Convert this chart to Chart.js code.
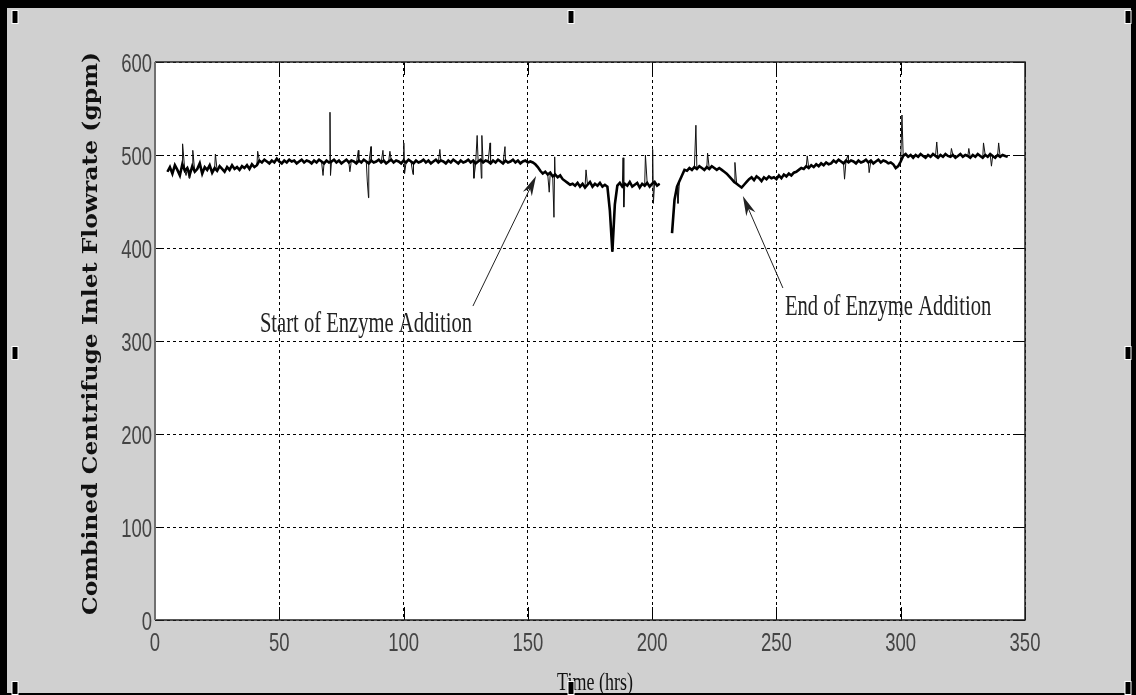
<!DOCTYPE html>
<html>
<head>
<meta charset="utf-8">
<title>Combined Centrifuge Inlet Flowrate</title>
<script src="https://cdn.jsdelivr.net/npm/chart.js@4.4.1/dist/chart.umd.min.js"></script>
<style>
  html, body { margin: 0; padding: 0; background: #d0d0d0; }
  canvas { display: block; }
</style>
</head>
<body>
<canvas id="flowChart" width="1136" height="695"></canvas>
<script>
// hourly readings (gpm), first one at hour 5; null = nothing logged
const startHour = 5;
const flow = [
  482, 487, 480, 489, 484, 478, 490, 483, 486, 479,
  488, 482, 485, 491, 480, 487, 484, 489, 481, 486,
  483, 488, 485, 482, 487, 484, 489, 485, 487, 484,
  488, 486, 489, 485, 490, 487, 489,
  494, 492, 495, 493, 491, 494, 492, 496, 493, 491,
  494, 492, 495, 493, 494, 491, 493, 495, 492, 494,
  493, 491, 494, 492, 495, 493, 491, 494, 492, 493,
  495, 492, 494, 491, 493, 495, 492, 494, 493, 491,
  494, 492, 495, 493, 491, 494, 492, 493, 495, 492,
  494, 491, 493, 495, 492, 494, 493, 491, 494, 492,
  495, 493, 491, 494, 492, 493, 495, 492, 494, 491,
  493, 495, 492, 494, 493, 491, 494, 492, 495, 493,
  491, 494, 492, 493, 495, 492, 494, 491, 493, 495,
  492, 494, 493, 491, 494, 492, 495, 493, 491, 494,
  492, 493, 495, 492, 494, 491, 493, 494, 492, 493,
  492,
  490, 487, 483, 480, 482, 479, 481, 477, 479, 476, 478, 474, 472, 470, 468, 469,
  467, 470, 466, 469, 465, 468, 471, 466, 469, 467,
  470, 466, 468, 466, 440, 396, 447, 467, 470, 466,
  469, 467, 471, 466, 468, 470, 465, 469, 467, 470,
  466, 469, 471, 467, 469,
  null, null, null, null,
  416, 452, 466, 472, 478, 484, 483, 486, 484, 487,
  485, 488, 486, 484, 487, 485, 488, 486, 484, 486,
  484, 482, 480, 477, 474, 471, 469, 467, 465, 468,
  471, 474, 476, 473, 477, 475, 472, 476, 474, 477,
  475, 476, 474, 478, 475, 479, 477, 480, 478, 481,
  482, 484, 486, 485, 488, 486, 489, 487, 490, 488,
  491, 489, 492, 490, 491, 494, 492, 495, 493, 491,
  494, 492, 494, 493, 491, 494, 492, 493, 495, 492,
  494, 491, 493, 495, 492, 494, 493, 491, 492, 490,
  486, 488, 493,
  499, 501, 498, 500, 497, 500, 498, 501, 499, 497,
  500, 498, 501, 499, 497, 500, 498, 501, 499, 498,
  500, 497, 499, 501, 498, 500, 499, 497, 500, 498,
  501, 499, 497, 500, 498, 501, 499, 497, 500, 498,
  500, 499, 498
];

// short spikes logged between the hourly readings: [hour, gpm]
const spikes = [
  [11.1, 512], [12.5, 478], [13.7, 475], [15.2, 505], [24.3, 501], [41.3, 504],
  [67.6, 478], [70.4, 546], [70.6, 478], [78.4, 482], [81.8, 505], [85.4, 472],
  [85.9, 454], [86.9, 509], [91.7, 505], [94.5, 504], [100.1, 513], [100.4, 480],
  [103.8, 479], [114.6, 506], [128.3, 475], [129.6, 521], [131.3, 475], [131.5, 521],
  [134.8, 513], [140.8, 509], [158.6, 460], [160.5, 433], [160.8, 498], [173.4, 484],
  [188.3, 497], [188.6, 444], [197.3, 500], [200.2, 506], [200.5, 448],
  [210.4, 448], [217.6, 532], [222.3, 502], [233.3, 492], [262.4, 499], [277.4, 474],
  [278.8, 500], [287.3, 481], [300.5, 543], [314.5, 514], [320.4, 507], [327.4, 507],
  [333.3, 513], [336.5, 488], [339.4, 513]
];

const xTicks = [0, 50, 100, 150, 200, 250, 300, 350];
const yTicks = [0, 100, 200, 300, 400, 500, 600];

// callouts, in axis units: text anchor (left, baseline), arrow tail and tip
const notes = [
  { text: 'Start of Enzyme Addition', at: [42.2, 309.7], tail: [127.9, 337.6], tip: [153.3, 477.4] },
  { text: 'End of Enzyme Addition', at: [253.4, 328], tail: [252.6, 357], tip: [236.5, 455.9] }
];

const hourly = flow.map((v, i) => ({ x: startHour + i, y: v }));
const allPoints = hourly
  .concat(spikes.map(s => ({ x: s[0], y: s[1] })))
  .sort((a, b) => a.x - b.x);

// text in this figure is drawn tall and narrow
function tallText(ctx, text, x, y, font, sy, align) {
  ctx.save();
  ctx.font = font;
  ctx.textAlign = align || 'left';
  ctx.textBaseline = 'alphabetic';
  ctx.translate(x, y);
  ctx.scale(1, sy);
  ctx.fillText(text, 0, 0);
  ctx.restore();
}

function arrow(ctx, x1, y1, x2, y2) {
  const ang = Math.atan2(y2 - y1, x2 - x1);
  const c = Math.cos(ang), s = Math.sin(ang);
  const len = 20, half = 5;
  ctx.beginPath();
  ctx.moveTo(x1, y1);
  ctx.lineTo(x2 - c * len * 0.6, y2 - s * len * 0.6);
  ctx.stroke();
  ctx.beginPath();
  ctx.moveTo(x2, y2);
  ctx.lineTo(x2 - c * len - s * half, y2 - s * len + c * half);
  ctx.lineTo(x2 - c * len * 0.7, y2 - s * len * 0.7);
  ctx.lineTo(x2 - c * len + s * half, y2 - s * len - c * half);
  ctx.closePath();
  ctx.fill();
}

const figure = {
  id: 'figure',
  beforeDraw(chart) {
    const { ctx, chartArea: a } = chart;
    ctx.save();
    ctx.fillStyle = '#d0d0d0';
    ctx.fillRect(0, 0, chart.width, chart.height);
    ctx.fillStyle = '#ffffff';
    ctx.fillRect(a.left, a.top, a.right - a.left, a.bottom - a.top);
    ctx.restore();
  },
  afterDraw(chart) {
    const { ctx, chartArea: a, scales: { x, y } } = chart;
    const W = chart.width, H = chart.height;
    ctx.save();

    // tick marks on the inside of the box
    ctx.strokeStyle = '#000';
    ctx.lineWidth = 1;
    ctx.beginPath();
    xTicks.forEach(v => {
      const px = Math.round(x.getPixelForValue(v)) + 0.5;
      ctx.moveTo(px, a.bottom); ctx.lineTo(px, a.bottom - 13);
      ctx.moveTo(px, a.top); ctx.lineTo(px, a.top + 13);
    });
    yTicks.forEach(v => {
      const py = Math.round(y.getPixelForValue(v)) + 0.5;
      ctx.moveTo(a.left, py); ctx.lineTo(a.left + 9, py);
      ctx.moveTo(a.right, py); ctx.lineTo(a.right - 9, py);
    });
    ctx.stroke();

    // axes box
    ctx.lineWidth = 1.5;
    ctx.strokeStyle = '#222';
    ctx.beginPath();
    ctx.moveTo(a.left, a.top); ctx.lineTo(a.right, a.top);
    ctx.lineTo(a.right, a.bottom); ctx.lineTo(a.left, a.bottom);
    ctx.stroke();
    ctx.lineWidth = 2;
    ctx.strokeStyle = '#707070';
    ctx.beginPath();
    ctx.moveTo(a.left, a.top); ctx.lineTo(a.left, a.bottom);
    ctx.stroke();

    // tick labels
    ctx.fillStyle = '#444';
    const tickFont = '18.5px "Liberation Sans", Arial, sans-serif';
    xTicks.forEach(v => tallText(ctx, String(v), x.getPixelForValue(v), a.bottom + 31, tickFont, 1.43, 'center'));
    yTicks.forEach(v => tallText(ctx, String(v), a.left - 3, y.getPixelForValue(v) + 9.5, tickFont, 1.43, 'right'));

    // axis titles
    ctx.fillStyle = '#111';
    tallText(ctx, 'Time (hrs)', (a.left + a.right) / 2 + 5, H - 5, '18px "Liberation Serif", serif', 1.45, 'center');

    const title = 'Combined Centrifuge Inlet Flowrate (gpm)';
    ctx.font = 'bold 22px "DejaVu Serif", serif';
    const tw = ctx.measureText(title).width;
    const cap = ctx.measureText('H').actualBoundingBoxAscent;
    ctx.save();
    ctx.translate(97, 333.5);
    ctx.rotate(-Math.PI / 2);
    ctx.scale(563 / tw, 15 / cap);
    ctx.textAlign = 'center';
    ctx.textBaseline = 'alphabetic';
    ctx.fillText(title, 0, 0);
    ctx.restore();

    // callouts
    ctx.fillStyle = '#222';
    ctx.strokeStyle = '#222';
    ctx.lineWidth = 1;
    notes.forEach(n => {
      tallText(ctx, n.text, x.getPixelForValue(n.at[0]), y.getPixelForValue(n.at[1]), '20.6px "Liberation Serif", serif', 1.47);
      arrow(ctx, x.getPixelForValue(n.tail[0]), y.getPixelForValue(n.tail[1]),
        x.getPixelForValue(n.tip[0]), y.getPixelForValue(n.tip[1]));
    });

    // outer frame with selection handles
    ctx.fillStyle = '#000';
    ctx.fillRect(0, 0, W, 8);
    ctx.fillRect(0, 0, 7, H);
    ctx.fillRect(W - 5, 0, 5, H);
    ctx.fillRect(0, H - 2, W, 2);
    [[15, 17], [571, 17], [1128, 17], [15, 353], [1128, 353], [15, 688], [571, 688], [1128, 688]].forEach(h => {
      ctx.fillStyle = '#fff';
      ctx.fillRect(h[0] - 3.5, h[1] - 7, 7, 14);
      ctx.fillStyle = '#000';
      ctx.fillRect(h[0] - 2.5, h[1] - 6, 5, 12);
    });
    ctx.restore();
  }
};

new Chart(document.getElementById('flowChart'), {
  type: 'line',
  data: {
    datasets: [{
      // hourly band, drawn heavy
      label: 'Hourly flowrate',
      data: hourly,
      borderColor: '#000',
      borderWidth: 2.6,
      pointRadius: 0,
      tension: 0,
      spanGaps: false
    }, {
      // full record with the short spikes, drawn fine
      label: 'Combined Centrifuge Inlet Flowrate',
      data: allPoints,
      borderColor: '#111',
      borderWidth: 1,
      pointRadius: 0,
      tension: 0,
      spanGaps: false
    }]
  },
  options: {
    responsive: false,
    animation: false,
    devicePixelRatio: 1,
    layout: { padding: { left: 155, top: 62, right: 111, bottom: 75 } },
    plugins: { legend: { display: false }, tooltip: { enabled: false } },
    scales: {
      x: {
        type: 'linear',
        min: 0,
        max: 350,
        ticks: { display: false, stepSize: 50 },
        grid: { color: '#000', lineWidth: 1, drawTicks: false },
        border: { display: false, dash: [3, 3] }
      },
      y: {
        min: 0,
        max: 600,
        ticks: { display: false, stepSize: 100 },
        grid: { color: '#000', lineWidth: 1, drawTicks: false },
        border: { display: false, dash: [3, 3] }
      }
    }
  },
  plugins: [figure]
});
</script>
</body>
</html>
